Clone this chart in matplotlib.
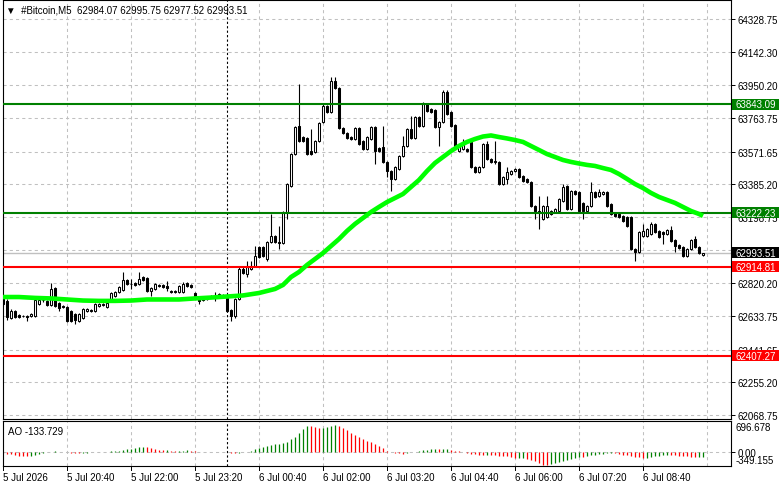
import numpy as np
import matplotlib
matplotlib.use("Agg")
import matplotlib.pyplot as plt
from matplotlib.patches import Rectangle

plt.rcParams['font.family'] = ['Liberation Sans', 'DejaVu Sans']

# --- data (#Bitcoin M5, from 5 Jul 2026 19:20) ---
opens = [
    62731, 62719, 62622, 62662, 62640, 62634, 62634, 62634, 62634, 62702,
    62725, 62719, 62697, 62794, 62708, 62691, 62685, 62662, 62645, 62605,
    62622, 62662, 62668, 62662, 62691, 62697, 62685, 62731, 62748, 62771,
    62782, 62839, 62816, 62822, 62816, 62856, 62851, 62777, 62788, 62811,
    62811, 62805, 62777, 62777, 62771, 62771, 62822, 62811, 62765, 62742,
    62737, 62731, 62742, 62737, 62742, 62748, 62737, 62668, 62634, 62731,
    62902, 62874, 62902, 62919, 63028, 63028, 62959, 63056, 63090, 63056,
    63050, 63227, 63376, 63558, 63718, 63655, 63650, 63575, 63570, 63633,
    63741, 63832, 63798, 63975, 63935, 63707, 63678, 63655, 63644, 63707,
    63633, 63587, 63644, 63712, 63593, 63598, 63513, 63461, 63416, 63473,
    63547, 63604, 63701, 63650, 63770, 63718, 63844, 63815, 63810, 63712,
    63741, 63912, 63798, 63724, 63575, 63587, 63587, 63627, 63484, 63456,
    63484, 63615, 63530, 63518, 63513, 63387, 63416, 63444, 63461, 63473,
    63433, 63416, 63399, 63262, 63233, 63187, 63199, 63233, 63227, 63233,
    63290, 63376, 63245, 63347, 63342, 63279, 63233, 63262, 63342, 63319,
    63330, 63342, 63273, 63222, 63216, 63205, 63199, 63199, 63016, 62999,
    63090, 63090, 63102, 63159, 63119, 63113, 63102, 63125, 63068, 63039,
    63028, 62976, 63016, 63073, 63028, 62984.07]
highs = [
    62742, 62731, 62674, 62668, 62645, 62640, 62640, 62651, 62731, 62731,
    62731, 62725, 62822, 62799, 62714, 62697, 62691, 62668, 62651, 62651,
    62679, 62679, 62674, 62708, 62708, 62708, 62714, 62771, 62777, 62805,
    62885, 62845, 62845, 62828, 62885, 62862, 62856, 62799, 62822, 62816,
    62816, 62834, 62782, 62782, 62811, 62828, 62828, 62816, 62771, 62748,
    62742, 62748, 62754, 62771, 62765, 62759, 62742, 62674, 62737, 62913,
    62913, 62948, 62948, 63033, 63033, 63033, 63062, 63216, 63096, 63147,
    63233, 63393, 63564, 63718, 63958, 63661, 63655, 63701, 63638, 63741,
    63844, 63838, 63998, 63998, 63941, 63712, 63684, 63661, 63712, 63712,
    63638, 63661, 63718, 63718, 63598, 63718, 63518, 63467, 63490, 63553,
    63661, 63707, 63775, 63775, 63775, 63855, 63849, 63821, 63815, 63747,
    63924, 63924, 63804, 63730, 63610, 63644, 63593, 63633, 63490, 63490,
    63621, 63633, 63536, 63633, 63518, 63433, 63484, 63467, 63478, 63478,
    63439, 63421, 63404, 63267, 63319, 63267, 63319, 63239, 63250, 63307,
    63387, 63382, 63353, 63353, 63347, 63285, 63267, 63399, 63347, 63359,
    63347, 63347, 63279, 63227, 63222, 63210, 63205, 63205, 63022, 63119,
    63159, 63136, 63170, 63165, 63125, 63119, 63130, 63147, 63073, 63045,
    63033, 63022, 63073, 63090, 63033, 62995.75]
lows = [
    62691, 62611, 62617, 62622, 62622, 62628, 62605, 62628, 62628, 62697,
    62714, 62691, 62691, 62685, 62662, 62679, 62600, 62600, 62588, 62600,
    62617, 62657, 62657, 62657, 62685, 62691, 62679, 62725, 62742, 62765,
    62777, 62811, 62788, 62805, 62811, 62834, 62771, 62748, 62782, 62799,
    62794, 62777, 62765, 62765, 62765, 62765, 62799, 62794, 62731, 62702,
    62719, 62725, 62737, 62719, 62737, 62742, 62657, 62605, 62622, 62725,
    62874, 62856, 62896, 62913, 62965, 62971, 62948, 63050, 63050, 63016,
    63045, 63187, 63370, 63553, 63627, 63627, 63553, 63553, 63564, 63627,
    63735, 63792, 63792, 63929, 63701, 63673, 63644, 63638, 63638, 63610,
    63581, 63581, 63638, 63501, 63570, 63507, 63427, 63347, 63410, 63467,
    63541, 63598, 63644, 63644, 63712, 63712, 63798, 63792, 63707, 63604,
    63735, 63781, 63712, 63598, 63570, 63581, 63570, 63478, 63450, 63450,
    63478, 63524, 63507, 63501, 63382, 63382, 63387, 63439, 63456, 63421,
    63399, 63393, 63256, 63187, 63130, 63182, 63193, 63210, 63222, 63227,
    63285, 63239, 63239, 63324, 63227, 63187, 63227, 63256, 63307, 63313,
    63324, 63256, 63210, 63199, 63193, 63170, 63142, 63010, 62948, 62993,
    63085, 63085, 63096, 63108, 63079, 63045, 63096, 63056, 62999, 63016,
    62971, 62971, 63010, 63022, 62988, 62977.52]
closes = [
    62702, 62628, 62662, 62628, 62628, 62636, 62628, 62645, 62725, 62725,
    62727, 62697, 62788, 62691, 62679, 62685, 62605, 62605, 62611, 62645,
    62674, 62674, 62662, 62702, 62702, 62702, 62708, 62765, 62771, 62799,
    62839, 62816, 62818, 62811, 62845, 62839, 62777, 62794, 62816, 62805,
    62799, 62794, 62771, 62773, 62805, 62816, 62805, 62799, 62748, 62719,
    62725, 62742, 62748, 62748, 62759, 62750, 62662, 62634, 62731, 62902,
    62879, 62913, 62919, 62976, 62971, 62976, 63056, 63090, 63056, 63050,
    63227, 63387, 63558, 63712, 63633, 63633, 63558, 63558, 63633, 63735,
    63832, 63798, 63975, 63935, 63707, 63678, 63650, 63644, 63707, 63615,
    63587, 63655, 63712, 63575, 63575, 63513, 63461, 63416, 63484, 63547,
    63604, 63701, 63650, 63770, 63718, 63844, 63804, 63798, 63712, 63741,
    63912, 63787, 63718, 63604, 63604, 63615, 63575, 63484, 63456, 63484,
    63615, 63530, 63513, 63513, 63387, 63427, 63456, 63461, 63473, 63427,
    63404, 63399, 63262, 63233, 63227, 63262, 63262, 63216, 63245, 63302,
    63370, 63245, 63347, 63330, 63233, 63233, 63262, 63342, 63313, 63342,
    63342, 63262, 63216, 63205, 63199, 63176, 63147, 63016, 62999, 63113,
    63119, 63130, 63159, 63113, 63085, 63102, 63125, 63062, 63033, 63022,
    62976, 63016, 63068, 63028, 62993, 62993.51]

# moving average (lime line), read at selected bars
ma_idx = [0, 4, 8, 12, 16, 20, 24, 28, 32, 36, 40, 44, 48, 52, 56, 60, 64, 68,
          70, 72, 74, 76, 78, 80, 82, 84, 86, 88, 90, 92, 94, 96, 98, 100,
          102, 104, 106, 108, 110, 112, 114, 116, 118, 120, 122, 124, 126, 128,
          130, 132, 134, 136, 138, 140, 142, 144, 146, 148, 150, 152, 154, 156,
          158, 160, 162, 164, 166, 168, 170, 172, 174, 175]
ma_vals = [62742, 62742, 62737, 62734, 62728, 62722, 62720, 62720, 62722, 62728,
           62728, 62728, 62734, 62739, 62745, 62751, 62765, 62788,
           62811, 62856, 62885, 62925, 62959, 62993, 63033, 63073, 63119, 63159,
           63193, 63227, 63256, 63284, 63307, 63330, 63370, 63410, 63461, 63507,
           63541, 63575, 63604, 63627, 63644, 63658, 63664, 63655, 63647, 63638,
           63627, 63604, 63581, 63558, 63541, 63524, 63513, 63504, 63496, 63490,
           63478, 63467, 63444, 63416, 63387, 63364, 63336, 63313, 63296, 63279,
           63256, 63233, 63216, 63205]

# Awesome Oscillator
ao_vals = [
    -43, -52, -69, -86, -103, -112, -120, -103, -77, -52,
    -34, -17, -9, 9, -9, -12, -17, -26, -30, -32,
    -26, -21, -17, -9, -4, 0, 3, 9, 17, 26,
    43, 60, 77, 95, 112, 120, 112, 95, 69, 52,
    34, 36, 26, 24, 26, 30, 31, 17, 9, -9,
    -17, -19, -17, -12, -9, -10, -13, -26, -34, -26,
    -17, 2, 26, 60, 95, 120, 146, 172, 189, 206,
    232, 258, 318, 387, 482, 576, 671, 654, 645, 602,
    619, 645, 671, 696.678, 671, 619, 550, 490, 430, 370,
    318, 284, 241, 189, 138, 90, 26, -17, -26, -43,
    -52, -34, -17, 0, 17, 34, 52, 60, 69, 60,
    62, 77, 43, 26, 17, 2, -26, -52, -69, -77,
    -86, -84, -86, -95, -103, -112, -120, -138, -172, -163,
    -160, -181, -215, -250, -292, -335, -349.155, -320, -292, -266,
    -240, -215, -189, -163, -138, -145, -120, -95, -77, -60,
    -52, -43, -34, -43, -60, -77, -95, -112, -129, -146,
    -172, -155, -138, -120, -103, -95, -86, -88, -95, -103,
    -112, -120, -138, -146, -140, -133.729]

price_ticks = [64328.75, 64142.30, 63950.20, 63763.75, 63571.65, 63385.20, 63198.75,
               63012.30, 62820.20, 62633.75, 62441.65, 62255.20, 62068.75]
green_levels = [63843.09, 63222.23]
red_levels = [62914.81, 62407.27]
bid = 62993.51

time_idx = [0, 16, 32, 48, 64, 80, 96, 112, 128, 144, 160]
time_labels = ["5 Jul 2026", "5 Jul 20:40", "5 Jul 22:00", "5 Jul 23:20", "6 Jul 00:40",
               "6 Jul 02:00", "6 Jul 03:20", "6 Jul 04:40", "6 Jul 06:00", "6 Jul 07:20",
               "6 Jul 08:40"]
grid_idx = time_idx + [176]
day_sep = 56

title = "\u25bc  #Bitcoin,M5  62984.07 62995.75 62977.52 62993.51"

# --- layout (pixel based, figure 781x489) ---
W, H = 781, 489
fig = plt.figure(figsize=(W / 100, H / 100), dpi=100)


def px_axes(x0, y0, x1, y1):
    return fig.add_axes([x0 / W, 1 - y1 / H, (x1 - x0) / W, (y1 - y0) / H])


ax = px_axes(3, 1, 731, 420)
ao = px_axes(3, 422, 731, 467)

FS = 7
GRID = dict(color="#c0c0c0", lw=0.75, ls=(0, (3, 3)))

for a in (ax, ao):
    a.set_xlim(0, 182)
    for s in a.spines.values():
        s.set_linewidth(0.8)
        s.set_color("black")
    a.set_xticks([])
    for gi in grid_idx:
        a.axvline(gi, zorder=0, **GRID)
    a.axvline(day_sep, color="black", lw=0.8, ls=(0, (2, 2)), zorder=1)

# main price panel
ax.set_ylim(62046, 64437)
ax.yaxis.tick_right()
ax.set_yticks(price_ticks)
ax.set_yticklabels([f"{p:.2f}" for p in price_ticks])
ax.tick_params(axis="y", length=3, width=0.7, pad=2, labelsize=FS)
for p in price_ticks:
    ax.axhline(p, zorder=0, **GRID)

x = np.arange(len(closes))
o = np.array(opens)
c = np.array(closes)
hi = np.array(highs)
lo = np.array(lows)
ax.vlines(x, lo, hi, color="black", lw=0.8, zorder=2)
up = c >= o
ax.bar(x[up], (c - o)[up], bottom=o[up], width=0.5, color="white",
       edgecolor="black", linewidth=0.75, zorder=3)
ax.bar(x[~up], (o - c)[~up], bottom=c[~up], width=0.5, color="black",
       edgecolor="black", linewidth=0.75, zorder=3)

ax.axhline(bid, color="#c0c0c0", lw=1, zorder=1)
for lv in green_levels:
    ax.axhline(lv, color="#008000", lw=1.5, zorder=4)
for lv in red_levels:
    ax.axhline(lv, color="#ff0000", lw=1.5, zorder=4)

ax.plot(ma_idx, ma_vals, color="#00ff00", lw=3.3, solid_capstyle="butt", zorder=5)

# price boxes on the right scale
ytr = ax.get_yaxis_transform()
box_h = 11 * (64437 - 62046) / 419
for lv, col in [(green_levels[0], "#008000"), (green_levels[1], "#008000"),
                (bid, "black"), (red_levels[0], "#ff0000"), (red_levels[1], "#ff0000")]:
    ax.add_patch(Rectangle((1.0015, lv - box_h / 2), 47 / 728, box_h, transform=ytr,
                           clip_on=False, facecolor=col, edgecolor="none", zorder=6))
    ax.text(1 + 4 / 728, lv, f"{lv:.2f}", transform=ytr, color="white", fontsize=FS,
            va="center", ha="left", clip_on=False, zorder=7)

ax.text(3 / 728, 1 - 9 / 419, title, transform=ax.transAxes, fontsize=FS,
        va="center", ha="left")

# AO panel
ao.set_ylim(-369, 792)
ao.yaxis.tick_right()
ao.set_yticks([0])
ao.set_yticklabels(["0.00"])
ao.tick_params(axis="y", length=3, width=0.7, pad=2, labelsize=FS)
ao.axhline(0, zorder=0, **GRID)
ao_arr = np.array(ao_vals)
ao_col = ["#ff0000"] + ["#008000" if ao_arr[k] > ao_arr[k - 1] else "#ff0000"
                        for k in range(1, len(ao_arr))]
ao.vlines(np.arange(len(ao_arr)), 0, ao_arr, colors=ao_col, lw=0.9, zorder=2)
ao.text(1 + 5 / 728, (467 - 428) / 45, f"{max(ao_vals):.3f}", transform=ao.transAxes,
        fontsize=FS, va="center", ha="left", clip_on=False)
ao.text(1 + 5 / 728, (467 - 461) / 45, f"{min(ao_vals):.3f}", transform=ao.transAxes,
        fontsize=FS, va="center", ha="left", clip_on=False)
ao.text(5 / 728, (467 - 432) / 45, f"AO {ao_vals[-1]:.3f}", transform=ao.transAxes,
        fontsize=FS, va="center", ha="left")

# time axis labels below the AO panel
xtr = ao.get_xaxis_transform()
for ti, tl in zip(time_idx, time_labels):
    ao.plot([ti, ti], [0, -4 / 45], transform=xtr, color="black", lw=0.7, clip_on=False)
    ao.text(ti + 0.1, -11 / 45, tl, transform=xtr, fontsize=FS, va="center", ha="left",
            clip_on=False)

fig.savefig("out.png", dpi=100)
